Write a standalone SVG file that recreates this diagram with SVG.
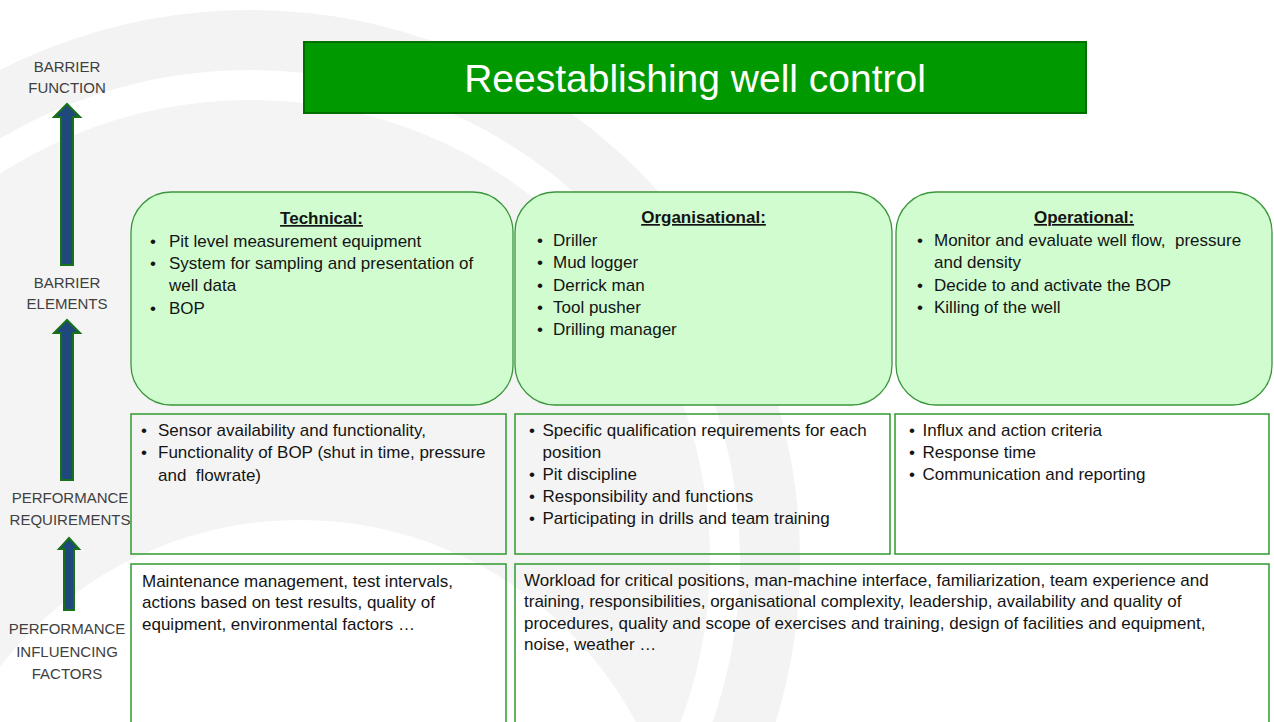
<svg xmlns="http://www.w3.org/2000/svg" width="1274" height="722" viewBox="0 0 1274 722">
<style>
.lbl{font-family:'Liberation Sans',Arial,sans-serif;font-size:15px;fill:#404040;text-anchor:middle}
.t{font-family:'Liberation Sans',Arial,sans-serif;font-size:17px;fill:#141414;white-space:pre}
.h{font-weight:bold;text-decoration:underline;text-anchor:middle}
.card{fill:#ccfccc;fill-opacity:0.93;stroke:#3a963a;stroke-width:1.3}
.box{fill:none;stroke:#2e9a2e;stroke-width:1.5}
.arrow{fill:#1f497d;stroke:#187018;stroke-width:2}
.wm{fill:none;stroke:#f3f3f3}
</style>
<rect x="0" y="0" width="1274" height="722" fill="#ffffff"/>
<g id="watermark">
  <circle cx="250" cy="560" r="460" fill="#f4f4f4"/>
  <circle cx="250" cy="560" r="520" class="wm" stroke-width="60"/>
  <circle cx="300" cy="900" r="380" fill="#ffffff"/>
</g>
<g id="title">
  <rect x="304" y="42" width="782" height="71" fill="#009900" stroke="#006e00" stroke-width="2"/>
  <text x="695" y="92" font-family="'Liberation Sans',Arial,sans-serif" font-size="39" fill="#ffffff" text-anchor="middle">Reestablishing well control</text>
</g>
<g id="level-labels">
  <text class="lbl" x="67" y="72">BARRIER</text>
  <text class="lbl" x="67" y="93">FUNCTION</text>
  <text class="lbl" x="67" y="288">BARRIER</text>
  <text class="lbl" x="67" y="309">ELEMENTS</text>
  <text class="lbl" x="70" y="503">PERFORMANCE</text>
  <text class="lbl" x="70" y="525">REQUIREMENTS</text>
  <text class="lbl" x="67" y="634">PERFORMANCE</text>
  <text class="lbl" x="67" y="657">INFLUENCING</text>
  <text class="lbl" x="67" y="679">FACTORS</text>
</g>
<g id="connectors">
  <polygon class="arrow" points="67,104 80,117 73,117 73,265 61,265 61,117 54,117"/>
  <polygon class="arrow" points="67,320 80,333 73,333 73,480 61,480 61,333 54,333"/>
  <polygon class="arrow" points="69,538 79,549 74,549 74,610 64,610 64,549 59,549"/>
</g>
<g id="technical">
  <rect class="card" x="131" y="192" width="382" height="213" rx="40" ry="40"/>
  <text class="t h" x="321.5" y="224">Technical:</text>
  <text class="t" x="150" y="247">•</text><text class="t" x="169" y="247">Pit level measurement equipment</text>
  <text class="t" x="150" y="269">•</text><text class="t" x="169" y="269">System for sampling and presentation of</text>
  <text class="t" x="169" y="291">well data</text>
  <text class="t" x="150" y="314">•</text><text class="t" x="169" y="314">BOP</text>
</g>
<g id="organisational">
  <rect class="card" x="515" y="192" width="377" height="213" rx="40" ry="40"/>
  <text class="t h" x="703.5" y="223">Organisational:</text>
  <text class="t" x="537" y="246">•</text><text class="t" x="553" y="246">Driller</text>
  <text class="t" x="537" y="268">•</text><text class="t" x="553" y="268">Mud logger</text>
  <text class="t" x="537" y="290.5">•</text><text class="t" x="553" y="290.5">Derrick man</text>
  <text class="t" x="537" y="313">•</text><text class="t" x="553" y="313">Tool pusher</text>
  <text class="t" x="537" y="335">•</text><text class="t" x="553" y="335">Drilling manager</text>
</g>
<g id="operational">
  <rect class="card" x="896" y="192" width="376" height="213" rx="40" ry="40"/>
  <text class="t h" x="1084" y="223">Operational:</text>
  <text class="t" x="917" y="246">•</text><text class="t" x="934" y="246">Monitor and evaluate well flow,  pressure</text>
  <text class="t" x="934" y="268">and density</text>
  <text class="t" x="917" y="290.5">•</text><text class="t" x="934" y="290.5">Decide to and activate the BOP</text>
  <text class="t" x="917" y="313">•</text><text class="t" x="934" y="313">Killing of the well</text>
</g>
<g id="req-technical">
  <rect class="box" x="131" y="414" width="375" height="140"/>
  <text class="t" x="141" y="436">•</text><text class="t" x="158" y="436">Sensor availability and functionality,</text>
  <text class="t" x="141" y="458">•</text><text class="t" x="158" y="458">Functionality of BOP (shut in time, pressure</text>
  <text class="t" x="158" y="480.5">and  flowrate)</text>
</g>
<g id="req-organisational">
  <rect class="box" x="515" y="414" width="375" height="140"/>
  <text class="t" x="529" y="435.5">•</text><text class="t" x="542.5" y="435.5">Specific qualification requirements for each</text>
  <text class="t" x="542.5" y="457.5">position</text>
  <text class="t" x="529" y="480">•</text><text class="t" x="542.5" y="480">Pit discipline</text>
  <text class="t" x="529" y="502">•</text><text class="t" x="542.5" y="502">Responsibility and functions</text>
  <text class="t" x="529" y="524">•</text><text class="t" x="542.5" y="524">Participating in drills and team training</text>
</g>
<g id="req-operational">
  <rect class="box" x="895" y="414" width="374" height="140"/>
  <text class="t" x="909" y="435.5">•</text><text class="t" x="922.5" y="435.5">Influx and action criteria</text>
  <text class="t" x="909" y="457.5">•</text><text class="t" x="922.5" y="457.5">Response time</text>
  <text class="t" x="909" y="480">•</text><text class="t" x="922.5" y="480">Communication and reporting</text>
</g>
<g id="pif-technical">
  <rect class="box" x="131" y="564" width="375" height="170"/>
  <text class="t" x="142" y="586.5">Maintenance management, test intervals,</text>
  <text class="t" x="142" y="608">actions based on test results, quality of</text>
  <text class="t" x="142" y="629.5">equipment, environmental factors …</text>
</g>
<g id="pif-human">
  <rect class="box" x="515" y="564" width="754" height="170"/>
  <text class="t" x="524" y="585.5" font-size="17.3">Workload for critical positions, man-machine interface, familiarization, team experience and</text>
  <text class="t" x="524" y="607" font-size="17.3">training, responsibilities, organisational complexity, leadership, availability and quality of</text>
  <text class="t" x="524" y="628.5" font-size="17.3">procedures, quality and scope of exercises and training, design of facilities and equipment,</text>
  <text class="t" x="524" y="650" font-size="17.3">noise, weather …</text>
</g>
</svg>
